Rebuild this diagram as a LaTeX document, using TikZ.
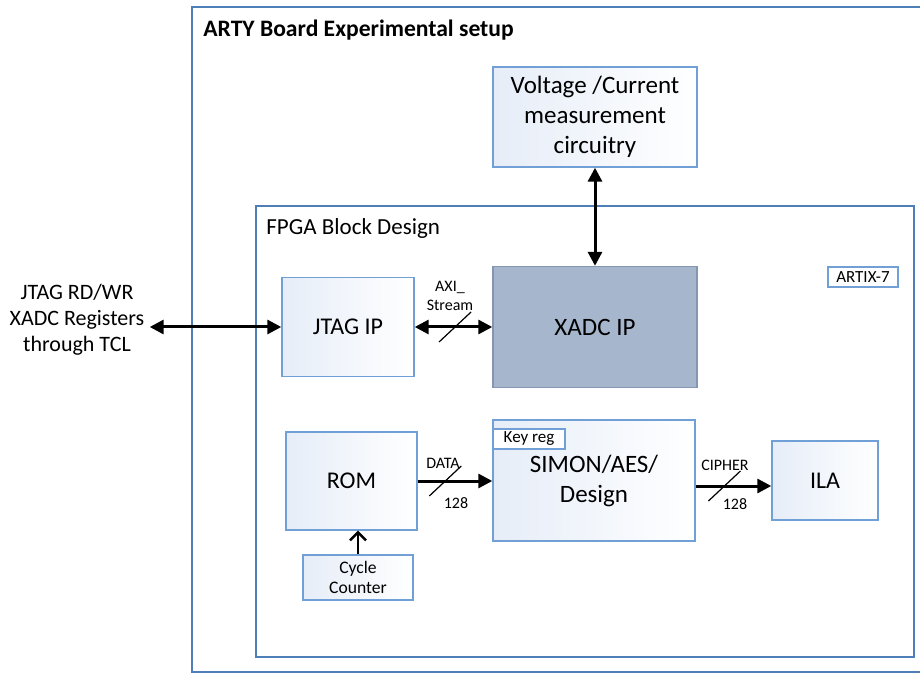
\documentclass[tikz,border=0pt]{standalone}
\usepackage{fontspec}
\setmainfont{Carlito}
\usetikzlibrary{arrows.meta}
\usetikzlibrary{decorations.markings}
\usetikzlibrary{positioning}
\usetikzlibrary{calc}

\definecolor{frameblue}{RGB}{79,127,184}
\definecolor{boxblue}{RGB}{112,160,214}
\definecolor{boxtint}{RGB}{230,237,248}
\definecolor{xadcfill}{RGB}{166,182,204}
\definecolor{xadcline}{RGB}{132,150,178}

\tikzset{
frame/.style = {draw=frameblue, line width=1pt},
block/.style = {draw=boxblue, line width=0.7pt, left color=boxtint,
                right color=white, inner sep=0pt, align=center,
                font=\fontsize{12.5}{15}\selectfont},
tag/.style = {draw=boxblue, line width=0.7pt, fill=white, inner sep=0pt,
              font=\fontsize{8.5}{10}\selectfont},
bus/.style = {line width=1.5pt, -{Triangle[length=7pt,width=7pt]}},
busboth/.style = {line width=1.5pt,
                  {Triangle[length=7pt,width=7pt]}-{Triangle[length=7pt,width=7pt]}},
slash/.style = {postaction={decorate, decoration={markings,
                mark=at position #1 with {\draw[-, line width=0.6pt] (-8pt,-7.5pt) -- (8pt,7.5pt);}}}},
slash/.default = 0.5,
buslabel/.style = {font=\fontsize{8}{9.5}\selectfont, inner sep=0pt, align=center},
mid/.style = {font=\fontsize{12}{14}\selectfont}
}
% block: [extra options] name, centre, width, height (pt), text
\newcommand{\blk}[6][]{\node[block, minimum width=#4pt, minimum height=#5pt, #1] (#2) at (#3) {#6};}

\begin{document}
\begin{tikzpicture}[x=0.5pt, y=-0.5pt]
        \useasboundingbox (0,0) rectangle (920,673);
        % board and fpga frames
        \draw[frame] (192,7) rectangle (960,672);
        \node[anchor=west, inner sep=0pt, font=\fontsize{11.8}{14}\selectfont\bfseries] (board) at (203,30) {ARTY Board Experimental setup};
        \draw[frame] (256,206) rectangle (914,657);
        \node[anchor=west, inner sep=0pt, font=\fontsize{11.5}{14}\selectfont] (fpga) at (266,228) {FPGA Block Design};
        % blocks
        \blk{volt}{595,117}{102}{50}{Voltage /Current\\measurement\\circuitry};
        \blk[draw=xadcline, left color=xadcfill, right color=xadcfill]{xadc}{595,327}{102}{60.5}{XADC IP};
        \blk[mid]{jtag}{348,327}{66}{49.5}{JTAG IP};
        \blk[mid]{rom}{351.5,481}{65.5}{49}{ROM};
        \blk[font=\fontsize{8.8}{10}\selectfont]{cyc}{358,577.5}{55}{22.5}{Cycle\\Counter};
        \blk{simon}{594,480.5}{101}{60.5}{SIMON/AES/\\Design};
        \blk[mid]{ila}{825,480.5}{53}{39.5}{ILA};
        \node[tag, minimum width=36pt, minimum height=10pt] (keyreg) at (529,439) {Key reg};
        \node[tag, minimum width=35pt, minimum height=10pt] (artix) at (863,277) {ARTIX-7};
        \node[inner sep=2.5pt, align=center, font=\fontsize{11}{13}\selectfont] (host) at (77,320) {JTAG RD/WR\\XADC Registers\\through TCL};
        % connections
        \draw[busboth] (host.east |- jtag.west) -- (jtag.west);
        \draw[busboth, slash=0.52] (jtag.east) -- (jtag.east -| xadc.west);
        \draw[busboth] (volt.south) -- (xadc.north);
        \draw[bus, slash=0.37] (rom.east) -- (rom.east -| simon.west);
        \draw[bus, slash=0.38] ([yshift=-2.75pt]simon.east) -- ([yshift=-2.75pt]simon.east -| ila.west);
        \draw[line width=1.2pt, -{Straight Barb[length=4pt,width=8pt]}] (cyc.north) -- (cyc.north |- rom.south);
        % bus labels
        \node[buslabel] (axi) at (450,296) {AXI\_\\Stream};
        \node[buslabel] (data) at (443,463) {DATA};
        \node[buslabel] (dwidth) at (456,503) {128};
        \node[buslabel] (cipher) at (725,465) {CIPHER};
        \node[buslabel] (cwidth) at (735,504) {128};
\end{tikzpicture}
\end{document}
